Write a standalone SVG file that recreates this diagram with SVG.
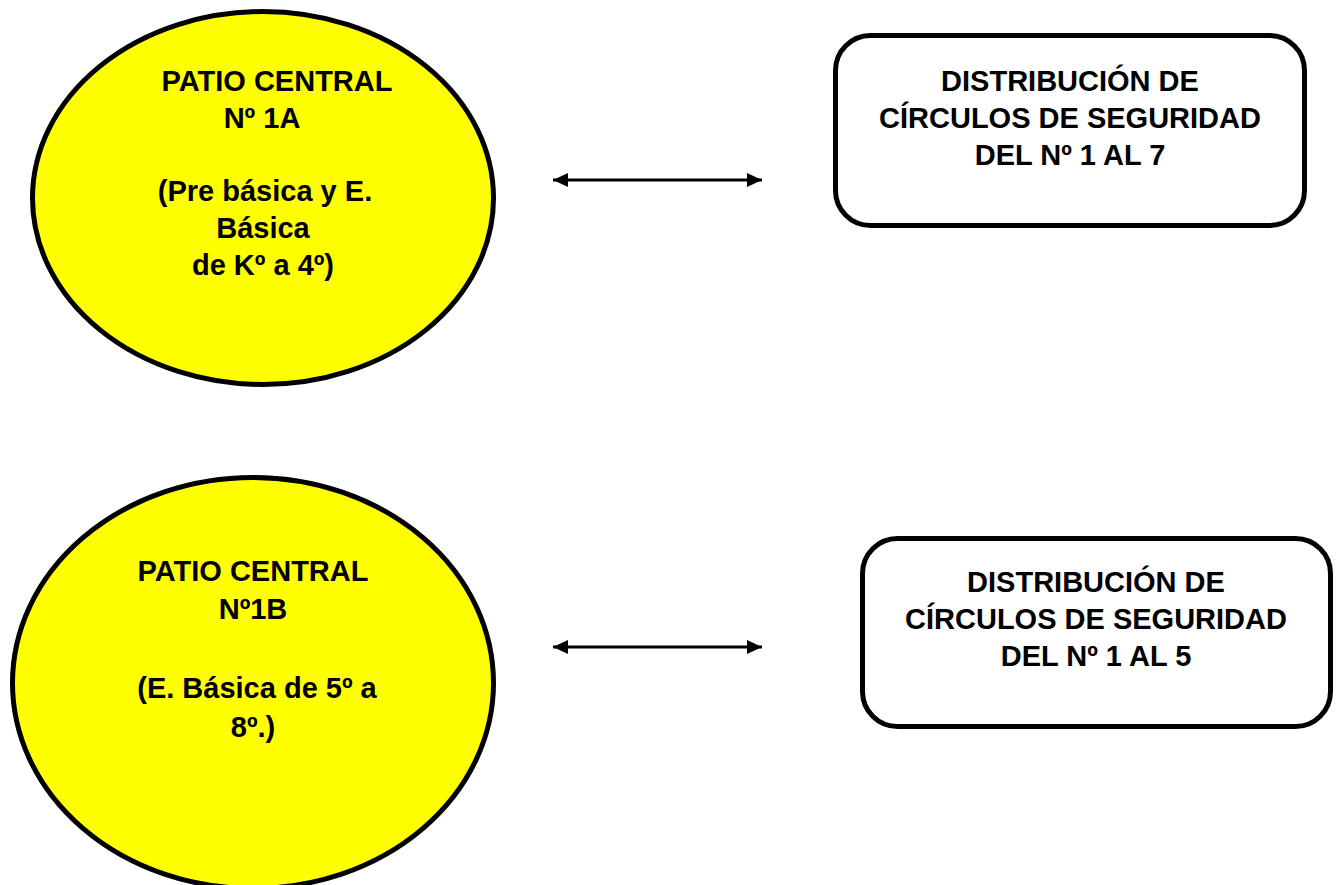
<svg xmlns="http://www.w3.org/2000/svg" width="1337" height="885" viewBox="0 0 1337 885">
<style>
.bg{fill:#ffffff}
.ell{fill:#ffff00;stroke:#000;stroke-width:5}
.box{fill:#ffffff;stroke:#000;stroke-width:5}
.t{font-family:"Liberation Sans",Arial,sans-serif;font-weight:bold;font-size:29px;fill:#000;text-anchor:middle}
.conn{stroke:#000;stroke-width:2.8;fill:none}
</style>
<defs>
<marker id="ah" markerUnits="userSpaceOnUse" markerWidth="16" markerHeight="16" viewBox="0 0 16 16" refX="15" refY="8" orient="auto-start-reverse">
<path d="M0,1 L15,8 L0,15 Z" fill="#000"/>
</marker>
</defs>
<rect class="bg" x="0" y="0" width="1337" height="885"/>
<g id="patio1a">
<ellipse class="ell" cx="263" cy="198" rx="230.5" ry="186.5"/>
<text class="t" x="277" y="91">PATIO CENTRAL</text>
<text class="t" x="262" y="128">Nº 1A</text>
<text class="t" x="265" y="201">(Pre básica y E.</text>
<text class="t" x="263" y="238">Básica</text>
<text class="t" x="263" y="275">de Kº a 4º)</text>
</g>
<g id="patio1b">
<ellipse class="ell" cx="253" cy="683" rx="240.5" ry="205.5"/>
<text class="t" x="253" y="581">PATIO CENTRAL</text>
<text class="t" x="253" y="619">Nº1B</text>
<text class="t" x="257" y="698">(E. Básica de 5º a</text>
<text class="t" x="253" y="737">8º.)</text>
</g>
<g id="dist1">
<rect class="box" x="835.5" y="35.5" width="469" height="190" rx="35" ry="35"/>
<text class="t" x="1070" y="91">DISTRIBUCIÓN DE</text>
<text class="t" x="1070" y="128">CÍRCULOS DE SEGURIDAD</text>
<text class="t" x="1070" y="165">DEL Nº 1 AL 7</text>
</g>
<g id="dist2">
<rect class="box" x="862.5" y="538.5" width="468" height="188" rx="35" ry="35"/>
<text class="t" x="1096" y="592">DISTRIBUCIÓN DE</text>
<text class="t" x="1096" y="629">CÍRCULOS DE SEGURIDAD</text>
<text class="t" x="1096" y="666">DEL Nº 1 AL 5</text>
</g>
<g id="connectors">
<line class="conn" x1="553" y1="180" x2="762" y2="180" marker-start="url(#ah)" marker-end="url(#ah)"/>
<line class="conn" x1="553" y1="647" x2="762" y2="647" marker-start="url(#ah)" marker-end="url(#ah)"/>
</g>
</svg>
